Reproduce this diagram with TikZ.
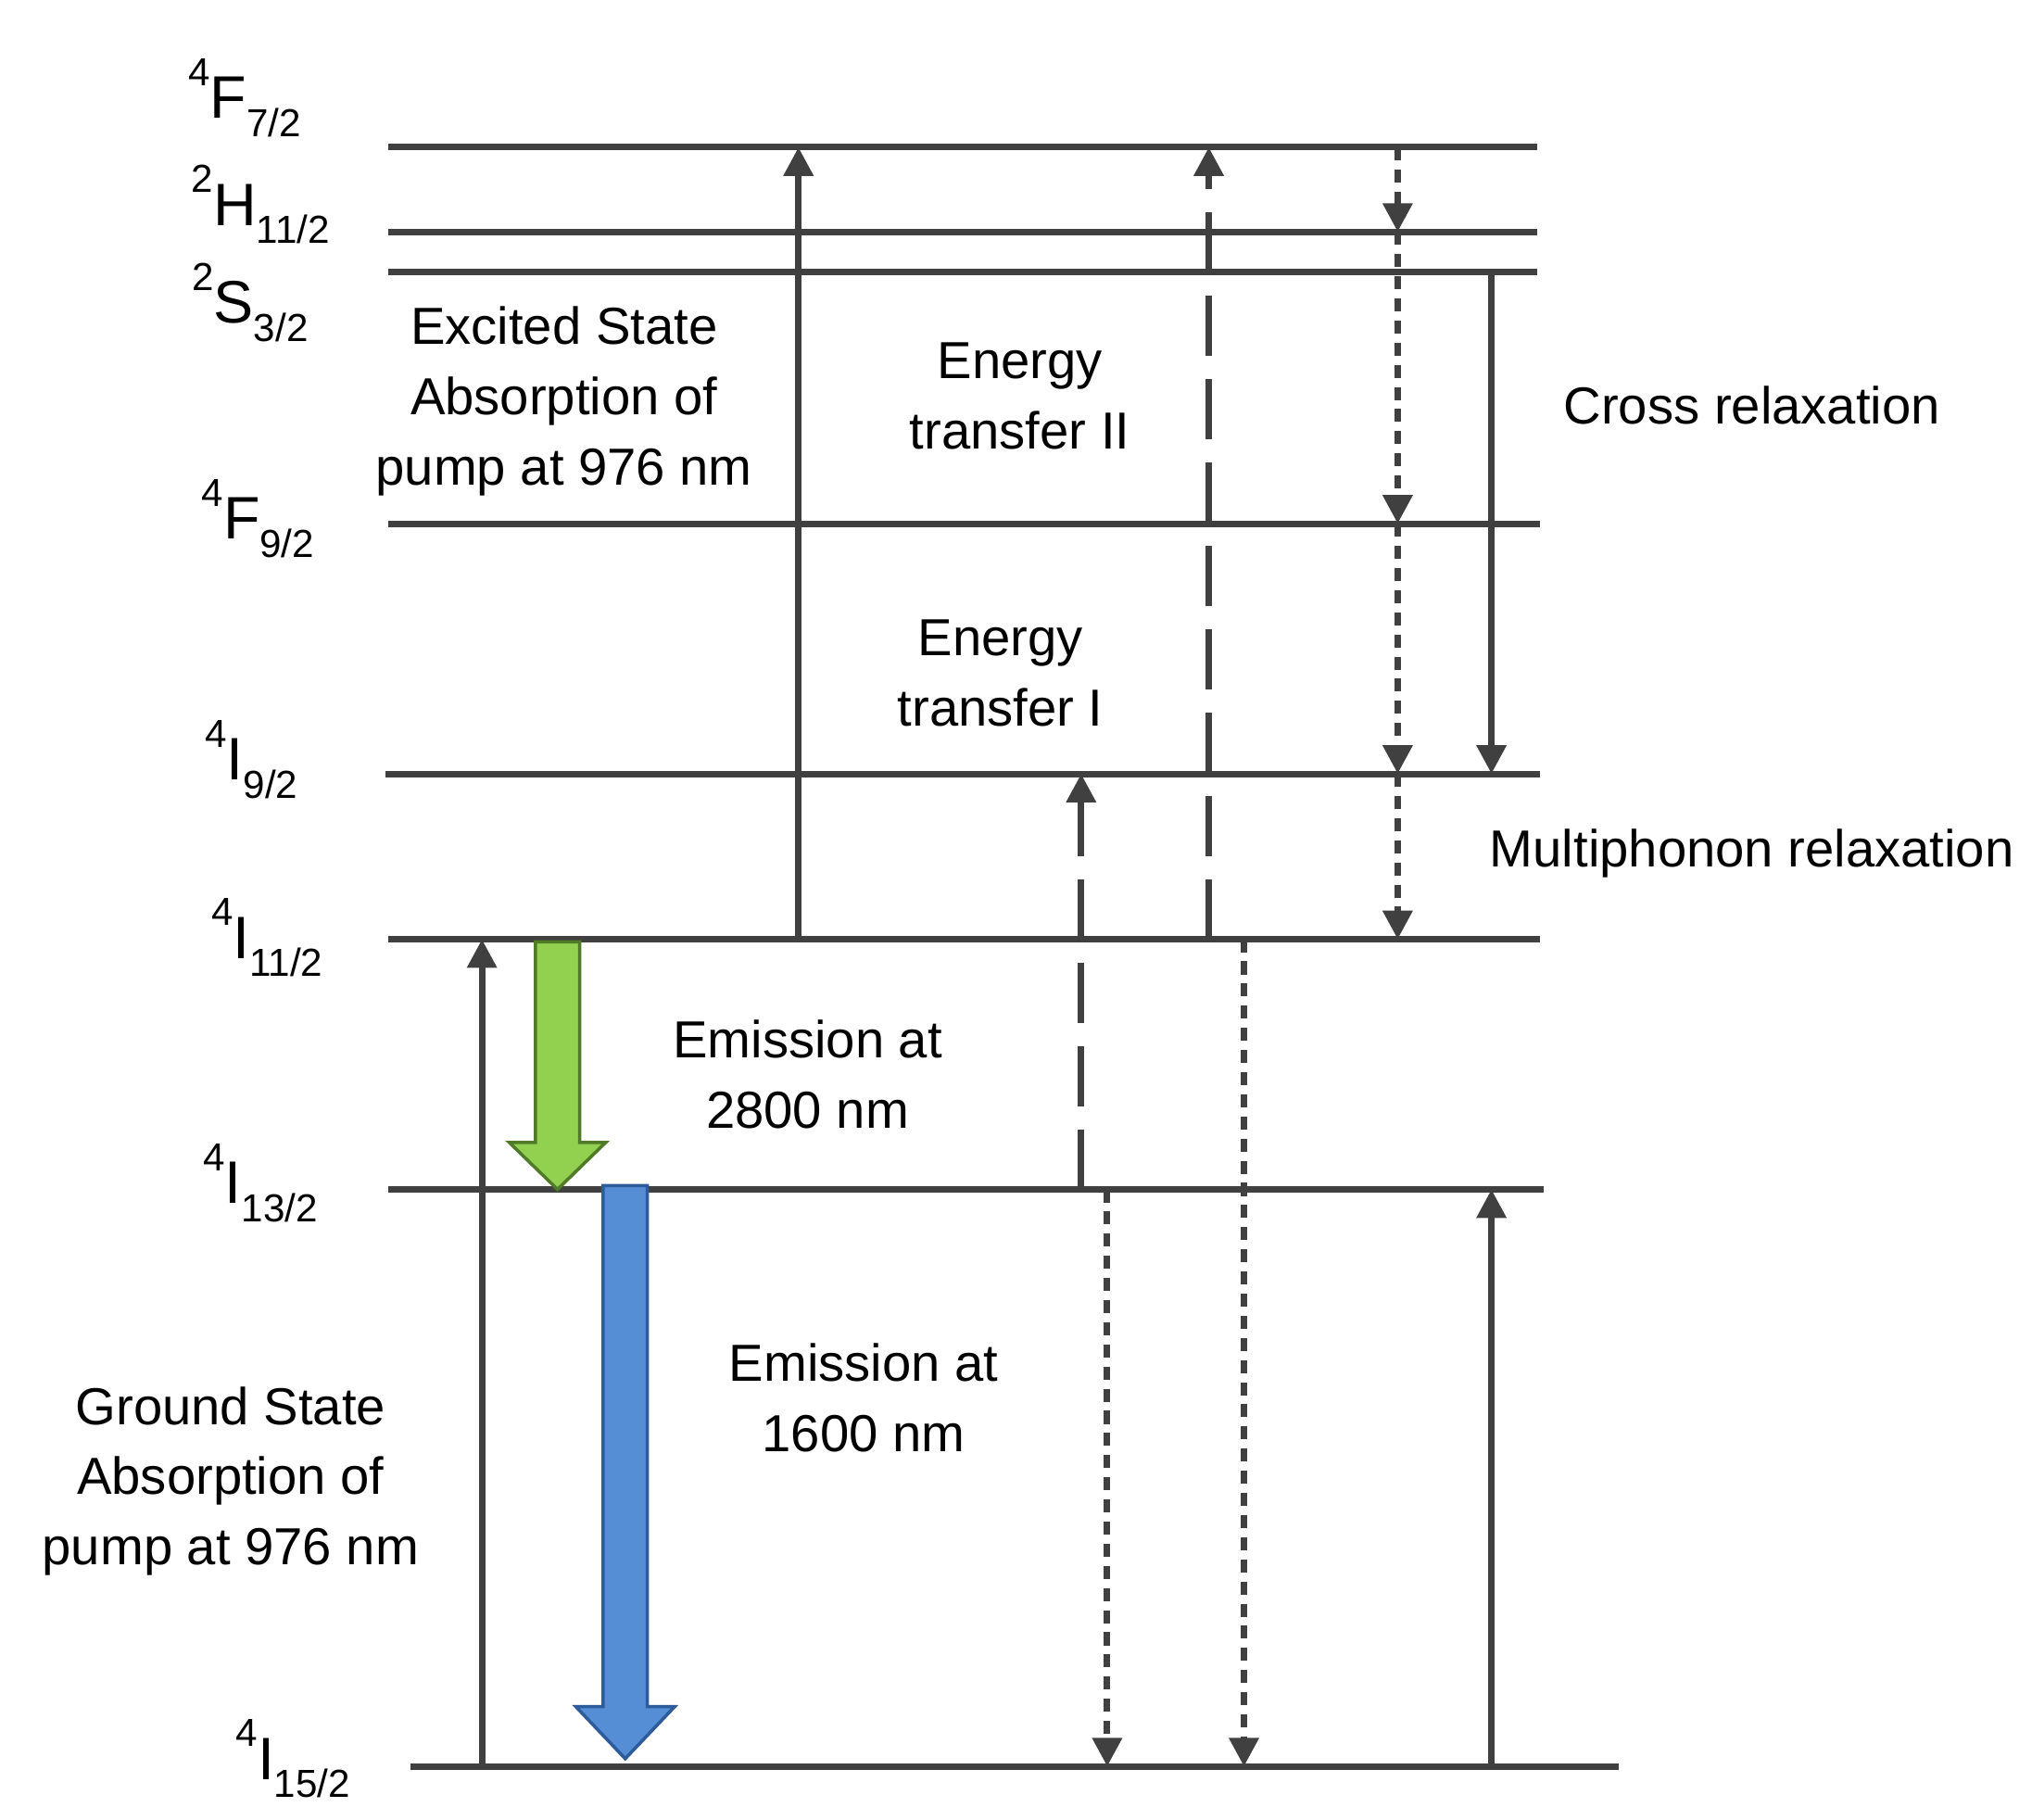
\documentclass[tikz,border=0pt]{standalone}
\usepackage{fontspec}
\setmainfont{Liberation Sans}
\usetikzlibrary{arrows.meta}
\newcommand{\lv}[3]{\raisebox{0.55em}{\fontsize{30}{30}\selectfont #1}#2\raisebox{-0.3em}{\fontsize{30}{30}\selectfont #3}}
\begin{document}
\begin{tikzpicture}[x=1pt,y=-1pt,
  lvl/.style={line width=5pt,draw=black!75},
  ar/.style={line width=5pt,draw=black!75,-{Triangle[length=22pt,width=22pt]}},
  dsh/.style={ar,dash pattern=on 46pt off 18pt},
  dot/.style={ar,dash pattern=on 10pt off 7pt},
  lab/.style={font=\fontsize{46}{50}\selectfont},
  txt/.style={font=\fontsize{40}{54}\selectfont,align=center}]
\useasboundingbox (0,0) rectangle (1560,1397);
% levels
\coordinate (a1) at (298,113); \coordinate (b1) at (1180,113);
\coordinate (a2) at (298,178); \coordinate (b2) at (1180,178);
\coordinate (a3) at (298,209); \coordinate (b3) at (1180,209);
\coordinate (a4) at (298,402); \coordinate (b4) at (1182,402);
\coordinate (a5) at (296,594); \coordinate (b5) at (1182,594);
\coordinate (a6) at (298,721); \coordinate (b6) at (1182,721);
\coordinate (a7) at (298,913); \coordinate (b7) at (1185,913);
\coordinate (a8) at (315,1356); \coordinate (b8) at (1243,1356);
\foreach \i in {1,...,8} \draw[lvl] (a\i) -- (b\i);
% labels
\node[lab] (l1) at (188,75) {\lv{4}{F}{7/2}};
\node[lab] (l2) at (200,157) {\lv{2}{H}{11/2}};
\node[lab] (l3) at (192,232) {\lv{2}{S}{3/2}};
\node[lab] (l4) at (198,398) {\lv{4}{F}{9/2}};
\node[lab] (l5) at (193,583) {\lv{4}{I}{9/2}};
\node[lab] (l6) at (205,720) {\lv{4}{I}{11/2}};
\node[lab] (l7) at (200,908) {\lv{4}{I}{13/2}};
\node[lab] (l8) at (225,1350) {\lv{4}{I}{15/2}};
% texts
\node[txt] (t1) at (433,308) {Excited State\\Absorption of\\pump at 976 nm};
\node[txt] (t2) at (783,304) {Energy\\transfer II};
\node[txt] (t3) at (1345,311) {Cross relaxation};
\node[txt] (t4) at (768,517) {Energy\\transfer I};
\node[txt] (t5) at (1345,655) {Multiphonon relaxation};
\node[txt] (t6) at (620,825) {Emission at\\2800 nm};
\node[txt] (t7) at (663,1073) {Emission at\\1600 nm};
\node[txt] (t8) at (177,1137) {Ground State\\Absorption of\\pump at 976 nm};
% arrow endpoints
\coordinate (g0) at (370,1356); \coordinate (g1) at (370,721);
\coordinate (e0) at (613,721); \coordinate (e1) at (613,113);
\coordinate (q0) at (928,721); \coordinate (q1) at (928,113);
\coordinate (p0) at (830,913); \coordinate (p1) at (830,594);
\coordinate (m0) at (1073,113); \coordinate (m1) at (1073,178);
\coordinate (m2) at (1073,402); \coordinate (m3) at (1073,594); \coordinate (m4) at (1073,721);
\coordinate (c0) at (1145,209); \coordinate (c1) at (1145,594);
\coordinate (c2) at (1145,1356); \coordinate (c3) at (1145,913);
\coordinate (d0) at (850,913); \coordinate (d1) at (850,1356);
\coordinate (f0) at (955,721); \coordinate (f1) at (955,1356);
\draw[ar] (g0) -- (g1);
\draw[ar] (e0) -- (e1);
\draw[dsh] (q0) -- (q1);
\draw[dsh] (p0) -- (p1);
\draw[dot] (m0) -- (m1);
\draw[dot] (m1) -- (m2);
\draw[dot] (m2) -- (m3);
\draw[dot] (m3) -- (m4);
\draw[ar] (c0) -- (c1);
\draw[ar] (c2) -- (c3);
\draw[dot] (d0) -- (d1);
\draw[dot] (f0) -- (f1);
% block arrows
\definecolor{gfill}{HTML}{92D050}\definecolor{gdraw}{HTML}{4F7A28}
\definecolor{bfill}{HTML}{558ED5}\definecolor{bdraw}{HTML}{2E5C9A}
\draw[line width=2.5pt,draw=gdraw,fill=gfill]
  (411,723) -- (445,723) -- (445,877) -- (465,877) -- (428,913) -- (391,877) -- (411,877) -- cycle;
\draw[line width=2.5pt,draw=bdraw,fill=bfill]
  (463,910) -- (497,910) -- (497,1310) -- (518,1310) -- (480,1350) -- (442,1310) -- (463,1310) -- cycle;
\end{tikzpicture}
\end{document}
